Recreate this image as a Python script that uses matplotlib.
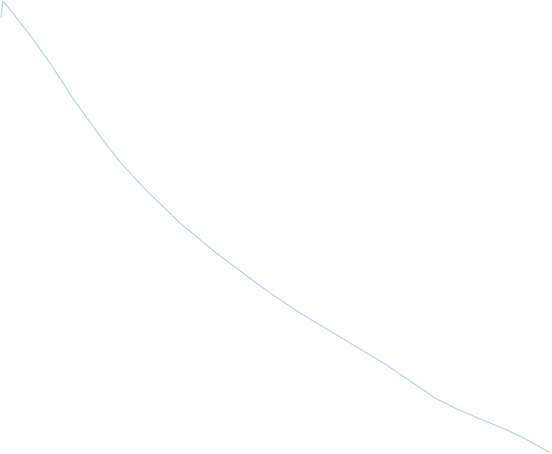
import matplotlib
matplotlib.use("Agg")
import matplotlib.pyplot as plt

# Values (x, y in chart units; y grows upward)
x_vals = [1, 3, 12, 30, 50, 74, 100, 120, 145, 180, 215, 251, 270, 300,
          345, 360, 385, 410, 435, 457, 480, 500, 520, 549]
y_vals = [437, 453, 442, 419, 391, 354, 318, 292, 265, 231, 202, 175, 161, 141,
          114, 105, 90, 73, 56, 45, 35, 27, 18, 2]

fig = plt.figure(figsize=(5.52, 4.54), dpi=100)
ax = fig.add_axes([0, 0, 1, 1])
ax.plot(x_vals, y_vals, color="#a8cbec", linewidth=0.7)
ax.set_xlim(0, 552)
ax.set_ylim(0, 454)
ax.axis("off")
fig.savefig("out.png", dpi=100)
